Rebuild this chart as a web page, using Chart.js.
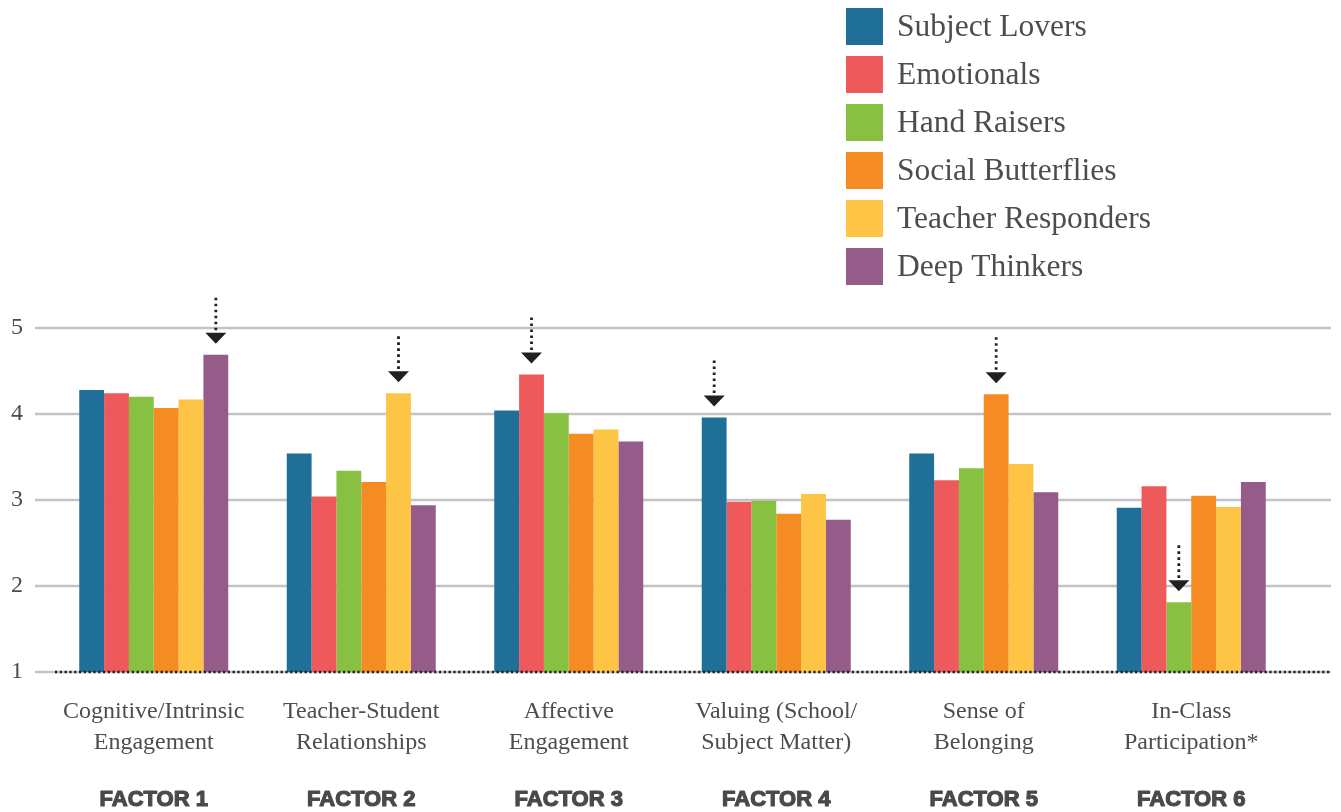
<!DOCTYPE html>
<html>
<head>
<meta charset="utf-8">
<script src="https://cdn.jsdelivr.net/npm/chart.js@4/dist/chart.umd.min.js"></script>
<style>
  html, body { margin: 0; padding: 0; background: #ffffff; }
  #wrap { position: relative; width: 1341px; height: 812px; }
</style>
</head>
<body>
<div id="wrap"><canvas id="c" width="1341" height="812"></canvas></div>
<script>
const categories = [
  ["Cognitive/Intrinsic", "Engagement"],
  ["Teacher-Student", "Relationships"],
  ["Affective", "Engagement"],
  ["Valuing (School/", "Subject Matter)"],
  ["Sense of", "Belonging"],
  ["In-Class", "Participation*"]
];
const factorLabels = ["FACTOR 1", "FACTOR 2", "FACTOR 3", "FACTOR 4", "FACTOR 5", "FACTOR 6"];
const seriesNames = ["Subject Lovers", "Emotionals", "Hand Raisers", "Social Butterflies", "Teacher Responders", "Deep Thinkers"];
const seriesColors = ["#1f6f98", "#ee595b", "#88c142", "#f58b23", "#fdc446", "#955b89"];

const subjectLovers     = [4.28, 3.54, 4.04, 3.96, 3.54, 2.91];
const emotionals        = [4.24, 3.04, 4.46, 2.98, 3.23, 3.16];
const handRaisers       = [4.20, 3.34, 4.01, 2.99, 3.37, 1.81];
const socialButterflies = [4.07, 3.21, 3.77, 2.84, 4.23, 3.05];
const teacherResponders = [4.17, 4.24, 3.82, 3.07, 3.42, 2.92];
const deepThinkers      = [4.69, 2.94, 3.68, 2.77, 3.09, 3.21];

const yTicks = [1, 2, 3, 4, 5];
// index of the series marked by an arrow in each factor
const highlighted = [5, 4, 1, 0, 3, 2];

const seriesValues = [subjectLovers, emotionals, handRaisers, socialButterflies, teacherResponders, deepThinkers];

const TEXT = "#4d4d4d";
const SERIF = "'Liberation Serif', 'DejaVu Serif', serif";

const gridPlugin = {
  id: "extendedGrid",
  beforeDatasetsDraw(chart) {
    const ctx = chart.ctx, y = chart.scales.y;
    ctx.save();
    ctx.strokeStyle = "#c3c3c3";
    ctx.lineWidth = 2.5;
    yTicks.forEach(v => {
      const py = Math.round(y.getPixelForValue(v));
      ctx.beginPath();
      ctx.moveTo(35, py);
      ctx.lineTo(1331, py);
      ctx.stroke();
    });
    ctx.restore();
  },
  afterDatasetsDraw(chart) {
    const ctx = chart.ctx, y = chart.scales.y;
    // dotted baseline
    const py = Math.round(y.getPixelForValue(yTicks[0]));
    ctx.save();
    ctx.strokeStyle = "#231f20";
    ctx.lineWidth = 2.5;
    ctx.setLineDash([2.2, 2.6]);
    ctx.beginPath();
    ctx.moveTo(55, py);
    ctx.lineTo(1331, py);
    ctx.stroke();
    ctx.restore();

    // arrows
    highlighted.forEach((ds, i) => {
      const bar = chart.getDatasetMeta(ds).data[i];
      const x = bar.x, top = bar.y;
      const tip = top - 11, baseY = top - 22, lineTop = top - 57;
      ctx.save();
      ctx.strokeStyle = "#231f20";
      ctx.lineWidth = 2.8;
      ctx.setLineDash([2.6, 3.4]);
      ctx.beginPath();
      ctx.moveTo(x, lineTop);
      ctx.lineTo(x, baseY - 1);
      ctx.stroke();
      ctx.setLineDash([]);
      ctx.fillStyle = "#231f20";
      ctx.beginPath();
      ctx.moveTo(x - 10.5, baseY);
      ctx.lineTo(x + 10.5, baseY);
      ctx.lineTo(x, tip);
      ctx.closePath();
      ctx.fill();
      ctx.restore();
    });
  },
  afterDraw(chart) {
    const ctx = chart.ctx, xs = chart.scales.x;
    // factor labels
    ctx.save();
    ctx.fillStyle = "#4a4a4c";
    ctx.strokeStyle = "#4a4a4c";
    ctx.lineWidth = 1.2;
    ctx.lineJoin = "round";
    ctx.font = "bold 22px 'Liberation Sans', Arial, sans-serif";
    ctx.textAlign = "center";
    ctx.textBaseline = "middle";
    factorLabels.forEach((t, i) => {
      const px = xs.getPixelForValue(i);
      ctx.fillText(t, px, 800);
      ctx.strokeText(t, px, 800);
    });
    ctx.restore();

    // legend
    ctx.save();
    ctx.font = "31.5px " + SERIF;
    ctx.textBaseline = "middle";
    ctx.textAlign = "left";
    chart.data.datasets.forEach((d, i) => {
      const top = 8 + i * 48;
      ctx.fillStyle = d.backgroundColor;
      ctx.fillRect(846, top, 37, 37);
      ctx.fillStyle = TEXT;
      ctx.fillText(d.label, 897, top + 20);
    });
    ctx.restore();
  }
};

new Chart(document.getElementById("c"), {
  type: "bar",
  data: {
    labels: categories,
    datasets: seriesNames.map((name, i) => ({
      label: name,
      data: seriesValues[i],
      backgroundColor: seriesColors[i],
      borderWidth: 0,
      base: 1,
      barPercentage: 1,
      categoryPercentage: 0.718
    }))
  },
  options: {
    responsive: false,
    animation: false,
    layout: { padding: { top: 328, right: 46, bottom: 0, left: 0 } },
    plugins: { legend: { display: false }, tooltip: { enabled: false } },
    scales: {
      x: {
        offset: true,
        grid: { display: false, drawTicks: false },
        border: { display: false },
        ticks: {
          color: TEXT,
          font: { family: SERIF, size: 24, lineHeight: 1.29 },
          padding: 24,
          maxRotation: 0,
          autoSkip: false
        },
        afterFit(scale) { scale.height = 140; }
      },
      y: {
        min: 1,
        max: 5,
        grid: { display: false, drawTicks: false },
        border: { display: false },
        ticks: {
          stepSize: 1,
          color: TEXT,
          font: { family: SERIF, size: 24 },
          padding: 27
        },
        afterFit(scale) { scale.width = 50; }
      }
    }
  },
  plugins: [gridPlugin]
});
</script>
</body>
</html>
